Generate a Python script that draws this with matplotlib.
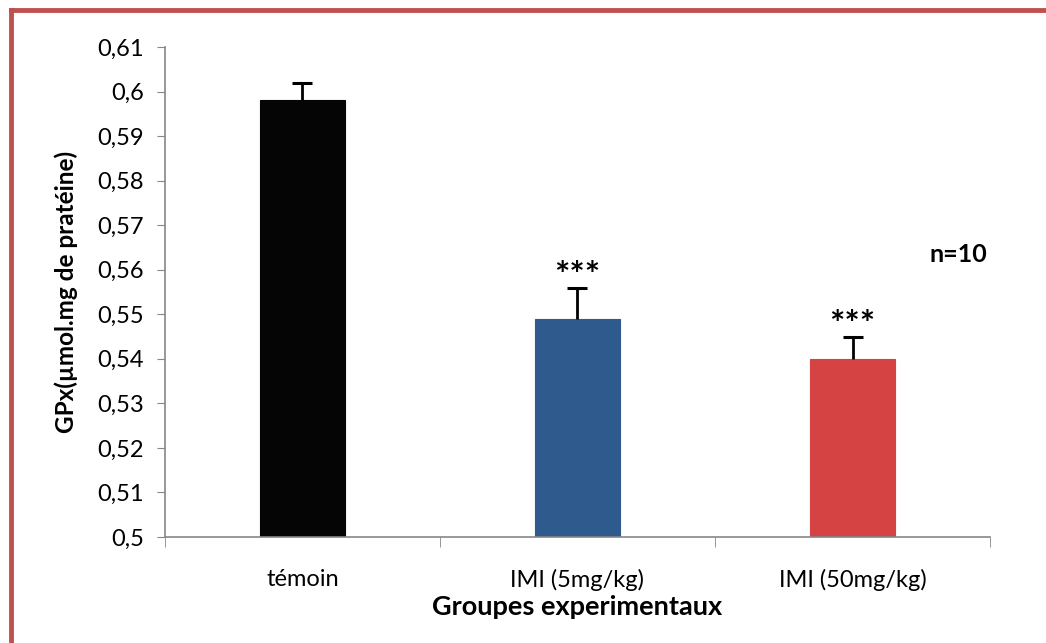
import matplotlib
matplotlib.use("Agg")
import matplotlib.pyplot as plt
import matplotlib.ticker as ticker
from matplotlib.lines import Line2D

groups = ["témoin", "IMI (5mg/kg)", "IMI (50mg/kg)"]
values = [0.598, 0.549, 0.540]
errors = [0.004, 0.007, 0.005]
stars = ["", "***", "***"]
colors = ["#050505", "#2E5A8E", "#D64343"]
yticks = [0.50, 0.51, 0.52, 0.53, 0.54, 0.55, 0.56, 0.57, 0.58, 0.59, 0.60, 0.61]

plt.rcParams["font.family"] = ["Lato", "DejaVu Sans"]


def fmt(v, pos):
    s = f"{v:.2f}".rstrip("0")
    return s.replace(".", ",")


fig = plt.figure(figsize=(10.46, 6.43), dpi=100)
ax = fig.add_axes([0.1577, 0.1649, 0.7888, 0.762])

x = list(range(len(groups)))
tops = [v + e for v, e in zip(values, errors)]
ax.bar(x, values, width=0.31, color=colors, edgecolor=colors, linewidth=0.8, zorder=2)
# upper error bars only
ax.vlines(x, values, tops, color="black", linewidth=2, zorder=3)
ax.plot(x, tops, linestyle="none", marker="_", markersize=14, markeredgewidth=2.2,
        color="black", zorder=3)
for i, s in enumerate(stars):
    if s:
        ax.text(i, tops[i] - 0.0013, s, ha="center", va="bottom",
                fontsize=26, fontweight="bold")

ax.text(2.49, 0.5635, "n=10", ha="right", va="center", fontsize=18, fontweight="bold")

ax.set_xlim(-0.5, 2.5)
ax.set_ylim(0.5, 0.61)
ax.set_yticks(yticks)
ax.yaxis.set_major_formatter(ticker.FuncFormatter(fmt))
ax.set_xticks(x)
ax.set_xticklabels(groups, fontsize=17)
ax.set_xticks([-0.5, 0.5, 1.5, 2.5], minor=True)
ax.tick_params(axis="x", which="major", length=0, pad=23)
ax.tick_params(axis="x", which="minor", length=7, color="#868686", direction="out")
ax.tick_params(axis="y", labelsize=17, length=6, color="#868686", direction="out", pad=9)

for side in ["top", "right"]:
    ax.spines[side].set_visible(False)
for side in ["left", "bottom"]:
    ax.spines[side].set_color("#868686")
    ax.spines[side].set_linewidth(1.2)

ax.set_xlabel("Groupes experimentaux", fontsize=19.5, fontweight="bold", labelpad=3)
ax.set_ylabel("GPx(µmol.mg de pratéine)", fontsize=17.5, fontweight="bold", labelpad=14)

# red frame on top and left
fig.add_artist(Line2D([0.0105, 1.0], [0.9845, 0.9845], color="#C0504D", linewidth=3.5,
                      transform=fig.transFigure))
fig.add_artist(Line2D([0.0105, 0.0105], [0.0, 0.9845], color="#C0504D", linewidth=3.5,
                      transform=fig.transFigure))

fig.savefig("out.png", dpi=100)
